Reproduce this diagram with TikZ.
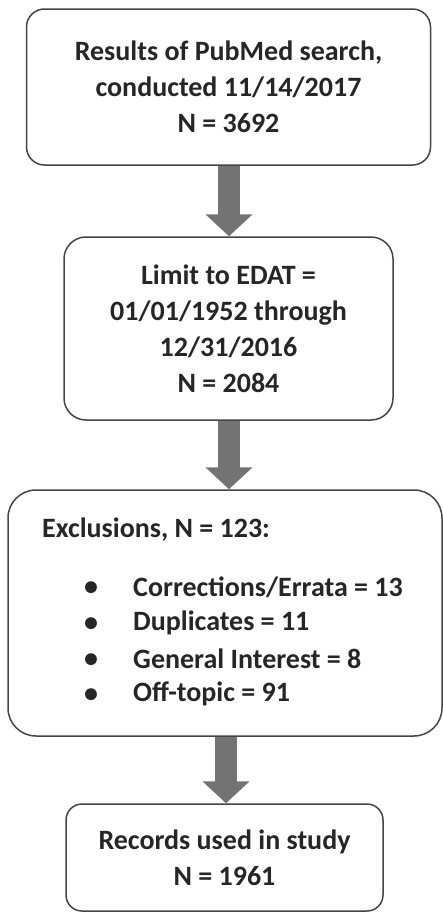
\documentclass[tikz,border=0pt]{standalone}
\usepackage{fontspec}
\setmainfont{Carlito}
\usetikzlibrary{arrows.meta,calc}
\definecolor{boxline}{HTML}{454545}
\definecolor{arrowgray}{HTML}{737373}
\definecolor{txt}{HTML}{262626}
\tikzset{
  box/.style={draw=boxline, line width=1.5pt, fill=white, text=txt, align=center,
    font=\bfseries\fontsize{28}{36}\selectfont},
  txtnode/.style={text=txt, inner sep=0pt, anchor=west, font=\bfseries\fontsize{28}{36}\selectfont},
  blockarrow/.style={draw=arrowgray, line width=22pt,
    -{Triangle[width=46pt,length=22pt]}, arrowgray}
}
\begin{document}
\begin{tikzpicture}[x=1pt,y=-1pt]
\useasboundingbox (0,0) rectangle (443,913);
\node[box, minimum width=404pt, minimum height=156pt, rounded corners=18pt] (b1) at (228.5,87)
  {Results of PubMed search,\\conducted 11/14/2017\\N = 3692};
\node[box, minimum width=329pt, minimum height=183pt, rounded corners=22pt] (b2) at (228.5,328.5)
  {Limit to EDAT =\\01/01/1952 through\\12/31/2016\\N = 2084};
\node[box, minimum width=434pt, minimum height=246pt, rounded corners=28pt] (b3) at (225,613) {};
\node[box, minimum width=317pt, minimum height=107pt, rounded corners=16pt] (b4) at (224.5,857.5)
  {Records used in study\\N = 1961};
\node[txtnode] (t3) at (42,530) {Exclusions, N = 123:};
\node[txtnode] (l1b) at (84,589) {\textbullet};
\node[txtnode] (l1) at (133,587) {Corrections/Errata = 13};
\node[txtnode] (l2b) at (84,625) {\textbullet};
\node[txtnode] (l2) at (133,623) {Duplicates = 11};
\node[txtnode] (l3b) at (84,661) {\textbullet};
\node[txtnode] (l3) at (133,659) {General Interest = 8};
\node[txtnode] (l4b) at (84,696) {\textbullet};
\node[txtnode] (l4) at (133,694) {Off-topic = 91};
\draw[blockarrow] ([xshift=0.5pt]b1.south) -- ([xshift=0.5pt]b1.south |- b2.north);
\draw[blockarrow] ([xshift=0.5pt]b2.south) -- ([xshift=0.5pt]b2.south |- b3.north);
\draw[blockarrow] ([xshift=1pt]b3.south) -- ([xshift=1pt]b3.south |- b4.north);
\end{tikzpicture}
\end{document}
